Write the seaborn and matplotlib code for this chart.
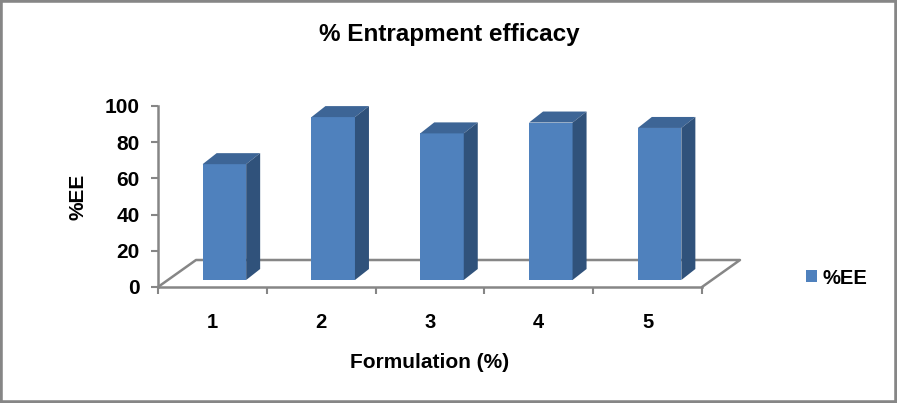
import pandas as pd
import seaborn as sns
import matplotlib.pyplot as plt
from matplotlib.patches import Polygon, Rectangle
from matplotlib.lines import Line2D
from matplotlib.transforms import Affine2D

formulation = ["1", "2", "3", "4", "5"]
ee_values = [64, 90, 81, 87, 84]

df = pd.DataFrame({"Formulation": formulation, "EE": ee_values})

sns.set_theme(style="white")
plt.rcParams["font.family"] = ["Liberation Sans", "DejaVu Sans"]
plt.rcParams["text.color"] = "black"
plt.rcParams["axes.labelcolor"] = "black"
plt.rcParams["xtick.labelcolor"] = "black"
plt.rcParams["ytick.labelcolor"] = "black"

W, H = 897, 403
GREY = "#868686"
FRONT = "#4f81bd"
TOP = "#3d6596"
SIDE = "#30527b"

fig = plt.figure(figsize=(W / 100, H / 100), dpi=100, facecolor="white")
ax = fig.add_axes([158 / W, 1 - 287 / H, 544 / W, 181 / H])

# рамка вокруг картинки
fig.add_artist(Rectangle((0, 0), 1, 1, transform=fig.transFigure, fill=False,
                         edgecolor=GREY, linewidth=4))

sns.barplot(data=df, x="Formulation", y="EE", color=FRONT, saturation=1,
            width=0.4, ax=ax, zorder=3, label="%EE", linewidth=0)

ax.set_xlim(-0.5, 4.5)
ax.set_ylim(0, 100)
ax.set_yticks([0, 20, 40, 60, 80, 100])
ax.set_xticks([i - 0.5 for i in range(6)], minor=True)
ax.tick_params(axis="x", which="major", length=0, pad=18.5)
ax.tick_params(axis="x", which="minor", length=5, width=1.5, color=GREY, bottom=True)
ax.tick_params(axis="y", length=5, width=1.5, color=GREY, left=True, pad=8)
ax.set_xticklabels(formulation, fontsize=14.5, fontweight="bold")
for lab in ax.get_yticklabels():
    lab.set_fontsize(15)
    lab.set_fontweight("bold")
ax.set_xlabel("Formulation (%)", fontsize=15, fontweight="bold", labelpad=15.5)
ax.set_ylabel("%EE", fontsize=15, fontweight="bold", labelpad=12.5)
ax.set_title("% Entrapment efficacy", fontsize=17.5, fontweight="bold",
             x=0.535, y=1.0, pad=47, color="black")

sns.despine(ax=ax, top=True, right=True)
for s in ["left", "bottom"]:
    ax.spines[s].set_color(GREY)
    ax.spines[s].set_linewidth(1.8)

# псевдо-3D: столбики сдвинуты в глубину, пол и грани считаются от осей
shift = Affine2D().translate(12, 7)
floor_dx, floor_dy = 38, 27
bar_dx, bar_dy = 14, 11

to_px = ax.transData
x0, y0 = to_px.transform((-0.5, 0))
x1, _ = to_px.transform((4.5, 0))
px = Affine2D()  # координаты в пикселях
ax.add_line(Line2D([x0, x0 + floor_dx, x1 + floor_dx, x1],
                   [y0, y0 + floor_dy, y0 + floor_dy, y0],
                   transform=px, color=GREY, lw=1.8, clip_on=False, zorder=1))

for bar in ax.patches:
    bar.set_transform(to_px + shift)
    bar.set_clip_on(False)
    (a, b), (c, d) = to_px.transform([(bar.get_x(), 0),
                                      (bar.get_x() + bar.get_width(), bar.get_height())])
    a, c = a + 12, c + 12
    b, d = b + 7, d + 7
    ax.add_patch(Polygon([(a, d), (c, d), (c + bar_dx, d + bar_dy), (a + bar_dx, d + bar_dy)],
                         transform=px, facecolor=TOP, edgecolor="none", clip_on=False, zorder=3))
    ax.add_patch(Polygon([(c, b), (c + bar_dx, b + bar_dy), (c + bar_dx, d + bar_dy), (c, d)],
                         transform=px, facecolor=SIDE, edgecolor="none", clip_on=False, zorder=3))

handles, labels = ax.get_legend_handles_labels()
ax.legend(handles[:1], labels[:1], loc="center left", bbox_to_anchor=(806 / W, 1 - 278 / H),
          bbox_transform=fig.transFigure, frameon=False, prop={"size": 14.5, "weight": "bold"},
          handlelength=0.55, handleheight=0.55, handletextpad=0.25, borderpad=0, borderaxespad=0)

fig.savefig("out.png", dpi=100, facecolor="white")
